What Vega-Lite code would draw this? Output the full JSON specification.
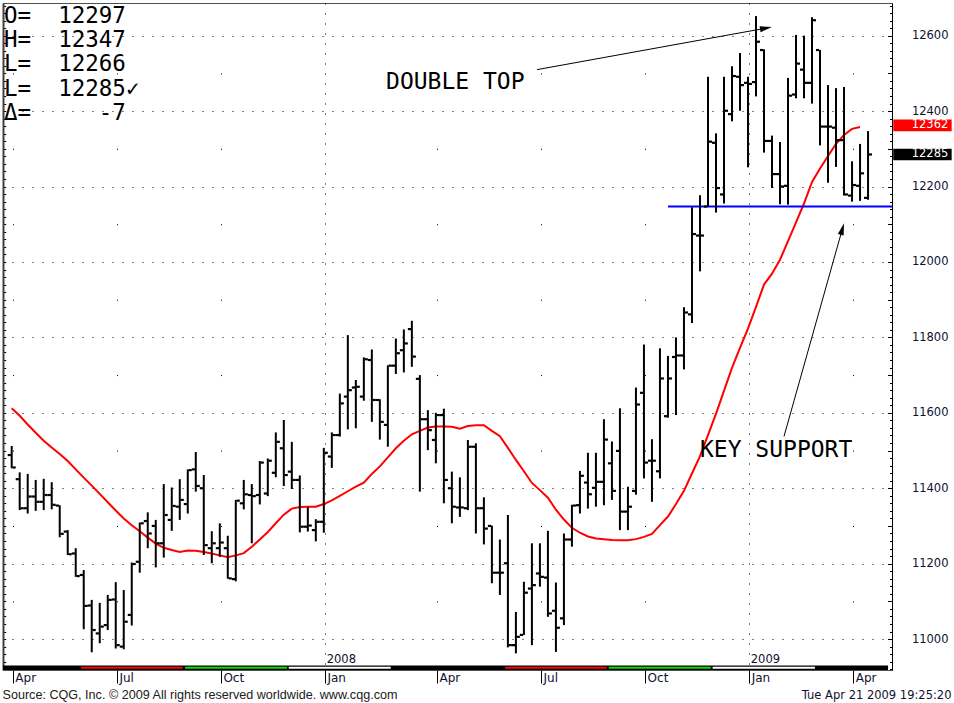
{
"$schema": "https://vega.github.io/schema/vega-lite/v6.json",
"width": 889, "height": 667, "autosize": "none",
"padding": {"left": 3, "top": 3, "right": 62, "bottom": 33},
"background": "#ffffff",
"config": {"view": {"stroke": "#505050", "strokeWidth": 1}},
"title": {"text": ["O=\u00a0\u00a012297", "H=\u00a0\u00a012347", "L=\u00a0\u00a012266", "L=\u00a0\u00a012285\u2713", "\u0394=\u00a0\u00a0\u00a0\u00a0\u00a0-7"], "orient": "none", "anchor": "start", "frame": "group", "baseline": "top", "offset": 0, "dx": 1, "dy": 2, "font": "DejaVu Sans Mono", "fontSize": 22.5, "fontWeight": "normal", "color": "#000000", "lineHeight": 24.2},
"datasets": {
"bars": [
{"d":"2007-04-02","o":11488,"h":11512,"l":11453,"c":11455,"ma":11612},
{"d":"2007-04-09","o":11424,"h":11442,"l":11342,"c":11347,"ma":11592},
{"d":"2007-04-16","o":11347,"h":11438,"l":11333,"c":11378,"ma":11569},
{"d":"2007-04-23","o":11378,"h":11422,"l":11340,"c":11364,"ma":11547},
{"d":"2007-04-30","o":11364,"h":11425,"l":11342,"c":11382,"ma":11526},
{"d":"2007-05-07","o":11382,"h":11416,"l":11344,"c":11356,"ma":11508},
{"d":"2007-05-14","o":11354,"h":11355,"l":11270,"c":11279,"ma":11491},
{"d":"2007-05-21","o":11285,"h":11289,"l":11223,"c":11225,"ma":11472},
{"d":"2007-05-28","o":11227,"h":11241,"l":11165,"c":11167,"ma":11450},
{"d":"2007-06-04","o":11170,"h":11183,"l":11026,"c":11088,"ma":11428},
{"d":"2007-06-11","o":11089,"h":11104,"l":10965,"c":11024,"ma":11407},
{"d":"2007-06-18","o":11015,"h":11096,"l":10989,"c":11033,"ma":11385},
{"d":"2007-06-25","o":11037,"h":11117,"l":11024,"c":11104,"ma":11363},
{"d":"2007-07-02","o":11105,"h":11151,"l":10975,"c":10984,"ma":11341},
{"d":"2007-07-09","o":10980,"h":11130,"l":10973,"c":11046,"ma":11320},
{"d":"2007-07-16","o":11064,"h":11203,"l":11036,"c":11199,"ma":11302},
{"d":"2007-07-23","o":11205,"h":11309,"l":11176,"c":11307,"ma":11286},
{"d":"2007-07-30","o":11313,"h":11336,"l":11241,"c":11280,"ma":11269},
{"d":"2007-08-06","o":11300,"h":11316,"l":11190,"c":11254,"ma":11253},
{"d":"2007-08-13","o":11254,"h":11411,"l":11216,"c":11329,"ma":11242},
{"d":"2007-08-20","o":11316,"h":11402,"l":11287,"c":11353,"ma":11236},
{"d":"2007-08-27","o":11351,"h":11424,"l":11316,"c":11369,"ma":11231},
{"d":"2007-09-03","o":11358,"h":11450,"l":11333,"c":11448,"ma":11235},
{"d":"2007-09-10","o":11450,"h":11496,"l":11391,"c":11406,"ma":11234},
{"d":"2007-09-17","o":11400,"h":11435,"l":11223,"c":11249,"ma":11231},
{"d":"2007-09-24","o":11241,"h":11286,"l":11201,"c":11254,"ma":11227},
{"d":"2007-10-01","o":11241,"h":11307,"l":11218,"c":11256,"ma":11222},
{"d":"2007-10-08","o":11241,"h":11274,"l":11160,"c":11161,"ma":11217},
{"d":"2007-10-15","o":11159,"h":11369,"l":11153,"c":11367,"ma":11222},
{"d":"2007-10-22","o":11360,"h":11422,"l":11344,"c":11384,"ma":11228},
{"d":"2007-10-29","o":11382,"h":11411,"l":11254,"c":11379,"ma":11245},
{"d":"2007-11-05","o":11382,"h":11472,"l":11357,"c":11468,"ma":11264},
{"d":"2007-11-12","o":11386,"h":11479,"l":11379,"c":11473,"ma":11284},
{"d":"2007-11-19","o":11441,"h":11548,"l":11429,"c":11523,"ma":11307},
{"d":"2007-11-26","o":11506,"h":11581,"l":11406,"c":11435,"ma":11330},
{"d":"2007-12-03","o":11444,"h":11523,"l":11398,"c":11422,"ma":11346},
{"d":"2007-12-10","o":11422,"h":11434,"l":11283,"c":11298,"ma":11350},
{"d":"2007-12-17","o":11298,"h":11350,"l":11285,"c":11301,"ma":11351},
{"d":"2007-12-24","o":11289,"h":11318,"l":11259,"c":11311,"ma":11351},
{"d":"2007-12-31","o":11311,"h":11507,"l":11282,"c":11494,"ma":11358},
{"d":"2008-01-07","o":11484,"h":11548,"l":11454,"c":11541,"ma":11368},
{"d":"2008-01-14","o":11541,"h":11651,"l":11537,"c":11625,"ma":11380},
{"d":"2008-01-21","o":11643,"h":11806,"l":11556,"c":11660,"ma":11392},
{"d":"2008-01-28","o":11667,"h":11687,"l":11559,"c":11669,"ma":11404},
{"d":"2008-02-04","o":11643,"h":11747,"l":11632,"c":11742,"ma":11415},
{"d":"2008-02-11","o":11740,"h":11768,"l":11576,"c":11634,"ma":11438},
{"d":"2008-02-18","o":11634,"h":11636,"l":11529,"c":11576,"ma":11458},
{"d":"2008-02-25","o":11568,"h":11726,"l":11510,"c":11725,"ma":11482},
{"d":"2008-03-03","o":11725,"h":11797,"l":11703,"c":11758,"ma":11506},
{"d":"2008-03-10","o":11766,"h":11821,"l":11707,"c":11784,"ma":11526},
{"d":"2008-03-17","o":11822,"h":11844,"l":11722,"c":11749,"ma":11543},
{"d":"2008-03-24","o":11690,"h":11700,"l":11391,"c":11583,"ma":11552},
{"d":"2008-03-31","o":11583,"h":11607,"l":11501,"c":11554,"ma":11561},
{"d":"2008-04-07","o":11528,"h":11600,"l":11466,"c":11594,"ma":11564},
{"d":"2008-04-14","o":11594,"h":11611,"l":11360,"c":11422,"ma":11564},
{"d":"2008-04-21","o":11400,"h":11444,"l":11307,"c":11351,"ma":11563},
{"d":"2008-04-28","o":11349,"h":11429,"l":11324,"c":11349,"ma":11558},
{"d":"2008-05-05","o":11347,"h":11528,"l":11342,"c":11510,"ma":11565},
{"d":"2008-05-12","o":11510,"h":11519,"l":11280,"c":11347,"ma":11567},
{"d":"2008-05-19","o":11347,"h":11376,"l":11251,"c":11293,"ma":11567},
{"d":"2008-05-26","o":11300,"h":11301,"l":11148,"c":11176,"ma":11552},
{"d":"2008-06-02","o":11176,"h":11264,"l":11117,"c":11176,"ma":11538},
{"d":"2008-06-09","o":11201,"h":11329,"l":10978,"c":10984,"ma":11507},
{"d":"2008-06-16","o":10984,"h":11072,"l":10962,"c":11006,"ma":11475},
{"d":"2008-06-23","o":11011,"h":11152,"l":11011,"c":11123,"ma":11445},
{"d":"2008-06-30","o":11134,"h":11254,"l":10984,"c":11143,"ma":11414},
{"d":"2008-07-07","o":11174,"h":11254,"l":11139,"c":11165,"ma":11395},
{"d":"2008-07-14","o":11163,"h":11287,"l":11059,"c":11068,"ma":11375},
{"d":"2008-07-21","o":11075,"h":11150,"l":10966,"c":11030,"ma":11343},
{"d":"2008-07-28","o":11055,"h":11280,"l":11037,"c":11264,"ma":11317},
{"d":"2008-08-04","o":11264,"h":11356,"l":11245,"c":11354,"ma":11295},
{"d":"2008-08-11","o":11355,"h":11446,"l":11333,"c":11433,"ma":11282},
{"d":"2008-08-18","o":11415,"h":11494,"l":11346,"c":11384,"ma":11272},
{"d":"2008-08-25","o":11401,"h":11494,"l":11351,"c":11417,"ma":11267},
{"d":"2008-09-01","o":11417,"h":11583,"l":11355,"c":11529,"ma":11265},
{"d":"2008-09-08","o":11466,"h":11524,"l":11369,"c":11393,"ma":11263},
{"d":"2008-09-15","o":11499,"h":11612,"l":11289,"c":11338,"ma":11262},
{"d":"2008-09-22","o":11338,"h":11404,"l":11289,"c":11351,"ma":11262},
{"d":"2008-09-29","o":11393,"h":11667,"l":11383,"c":11622,"ma":11265},
{"d":"2008-10-06","o":11653,"h":11781,"l":11426,"c":11468,"ma":11271},
{"d":"2008-10-13","o":11473,"h":11530,"l":11364,"c":11473,"ma":11279},
{"d":"2008-10-20","o":11445,"h":11771,"l":11426,"c":11691,"ma":11302},
{"d":"2008-10-27","o":11591,"h":11751,"l":11587,"c":11691,"ma":11325},
{"d":"2008-11-03","o":11748,"h":11800,"l":11594,"c":11752,"ma":11358},
{"d":"2008-11-10","o":11752,"h":11880,"l":11715,"c":11866,"ma":11393},
{"d":"2008-11-17","o":11861,"h":12145,"l":11838,"c":12074,"ma":11439},
{"d":"2008-11-24","o":12070,"h":12177,"l":11975,"c":12070,"ma":11485},
{"d":"2008-12-01","o":12147,"h":12491,"l":12147,"c":12319,"ma":11541},
{"d":"2008-12-08","o":12316,"h":12341,"l":12131,"c":12196,"ma":11597},
{"d":"2008-12-15","o":12179,"h":12491,"l":12155,"c":12401,"ma":11658},
{"d":"2008-12-22","o":12392,"h":12519,"l":12373,"c":12493,"ma":11719},
{"d":"2008-12-29","o":12491,"h":12554,"l":12401,"c":12469,"ma":11772},
{"d":"2009-01-05","o":12475,"h":12491,"l":12251,"c":12472,"ma":11823},
{"d":"2009-01-12","o":12477,"h":12652,"l":12439,"c":12584,"ma":11881},
{"d":"2009-01-19","o":12562,"h":12564,"l":12290,"c":12321,"ma":11940},
{"d":"2009-01-26","o":12321,"h":12335,"l":12196,"c":12233,"ma":11969},
{"d":"2009-02-02","o":12233,"h":12318,"l":12153,"c":12200,"ma":12006},
{"d":"2009-02-09","o":12202,"h":12488,"l":12152,"c":12441,"ma":12055},
{"d":"2009-02-16","o":12444,"h":12602,"l":12434,"c":12526,"ma":12105},
{"d":"2009-02-23","o":12510,"h":12600,"l":12434,"c":12475,"ma":12155},
{"d":"2009-03-02","o":12475,"h":12649,"l":12420,"c":12641,"ma":12212},
{"d":"2009-03-09","o":12562,"h":12562,"l":12309,"c":12359,"ma":12248},
{"d":"2009-03-16","o":12359,"h":12469,"l":12210,"c":12359,"ma":12281},
{"d":"2009-03-23","o":12356,"h":12461,"l":12252,"c":12323,"ma":12313},
{"d":"2009-03-30","o":12323,"h":12464,"l":12176,"c":12179,"ma":12337},
{"d":"2009-04-06","o":12176,"h":12267,"l":12160,"c":12204,"ma":12353},
{"d":"2009-04-13","o":12202,"h":12313,"l":12162,"c":12235,"ma":12358},
{"d":"2009-04-20","o":12170,"h":12347,"l":12165,"c":12285,"ma":null}
],
"seasons": [
{"s":"2007-06-01T14:00:00Z","e":"2007-08-29T14:00:00Z","k":"summer"},
{"s":"2007-08-31T14:00:00Z","e":"2007-11-28T19:00:00Z","k":"autumn"},
{"s":"2007-11-30T07:00:00Z","e":"2008-02-27T12:00:00Z","k":"winter"},
{"s":"2008-06-06T12:00:00Z","e":"2008-09-03T10:00:00Z","k":"summer"},
{"s":"2008-09-05T05:00:00Z","e":"2008-12-03T10:00:00Z","k":"autumn"},
{"s":"2008-12-05T02:00:00Z","e":"2009-03-04T14:00:00Z","k":"winter"}
],
"arrows": [
{"id":"top","d":"2008-07-04T11:00:00Z","v":12510},
{"id":"top","d":"2009-01-20T18:00:00Z","v":12620},
{"id":"support","d":"2009-02-05T12:00:00Z","v":11537.5},
{"id":"support","d":"2009-03-28T13:00:00Z","v":12087.5}
],
"notes": [
{"d":"2008-02-23T10:00:00Z","v":12458,"t":"DOUBLE TOP"},
{"d":"2008-11-24T00:00:00Z","v":11482.6,"t":"KEY SUPPORT"}
],
"years": [
{"d":"2008-01-02T12:00:00Z","t":"2008"},
{"d":"2009-01-07T10:00:00Z","t":"2009"}
],
"marks": [
{"v":12362,"t":"12362","k":"ma"},
{"v":12285,"t":"12285","k":"last"}
]
},
"data": {"name": "bars"},
"layer": [
{
"data": {"values": [{}]},
"mark": {"type": "rect", "color": "#000000"},
"encoding": {
"x": {"datum": {"year":2007,"month":3,"date":25,"hours":9,"minutes":22,"utc":true}, "type": "temporal",
 "scale": {"type": "utc", "domain": [{"year":2007,"month":3,"date":25,"hours":9,"minutes":22,"utc":true},{"year":2009,"month":5,"date":10,"hours":23,"utc":true}]}, "axis": null},
"x2": {"datum": {"year":2009,"month":5,"date":7,"hours":12,"utc":true}},
"y": {"datum": 10918, "type": "quantitative", "scale": {"domain": [10918, 12686.7], "nice": false, "zero": false}, "axis": null},
"y2": {"datum": 10929.7}
}
},
{
"data": {"name": "seasons"},
"mark": {"type": "rect"},
"encoding": {
"x": {"field": "s", "type": "temporal", "axis": null},
"x2": {"field": "e"},
"y": {"datum": 10921.5, "type": "quantitative", "axis": null},
"y2": {"datum": 10926.8},
"color": {"field": "k", "type": "nominal", "scale": {"domain": ["summer","autumn","winter"], "range": ["#ff0000","#00e000","#ffffff"]}, "legend": null}
}
},
{
"mark": {"type": "line", "color": "#ff0000", "strokeWidth": 2},
"encoding": {
"x": {"field": "d", "type": "temporal", "axis": {"orient": "bottom", "values": [1199145600000, 1231200000000], "grid": true, "gridColor": "#000000", "gridWidth": 1, "gridDash": [1, 9], "ticks": false, "labels": false, "domain": false, "title": null}},
"y": {"field": "ma", "type": "quantitative", "axis": {"orient": "left", "values": [10920,10940,10960,10980,11000,11020,11040,11060,11080,11100,11120,11140,11160,11180,11200,11220,11240,11260,11280,11300,11320,11340,11360,11380,11400,11420,11440,11460,11480,11500,11520,11540,11560,11580,11600,11620,11640,11660,11680,11700,11720,11740,11760,11780,11800,11820,11840,11860,11880,11900,11920,11940,11960,11980,12000,12020,12040,12060,12080,12100,12120,12140,12160,12180,12200,12220,12240,12260,12280,12300,12320,12340,12360,12380,12400,12420,12440,12460,12480,12500,12520,12540,12560,12580,12600,12620,12640,12660,12680], "tickSize": -2.7, "tickColor": "#000000", "labels": false, "grid": false, "domain": true, "domainColor": "#404040", "domainWidth": 2, "title": null}}
}
},
{
"data": {"values": [{}]},
"mark": {"type": "rule", "color": "#0000ff", "strokeWidth": 2},
"encoding": {
"x": {"datum": {"year":2008,"month":10,"date":27,"hours":1,"utc":true}, "type": "temporal", "axis": null},
"x2": {"datum": {"year":2009,"month":5,"date":10,"hours":23,"utc":true}},
"y": {"datum": 12147, "type": "quantitative", "axis": null}
}
},
{
"mark": {"type": "rule", "color": "#000000", "strokeWidth": 2},
"encoding": {
"x": {"field": "d", "type": "temporal", "axis": {
 "values": [1175558400000, 1183420800000, 1191283200000, 1199145600000, 1207612800000, 1215475200000, 1223337600000, 1231200000000, 1239062400000],
 "labelExpr": "utcFormat(datum.value, '%b')",
 "orient": "bottom",
 "domain": false, "ticks": true, "tickSize": 13, "tickColor": "#000000", "tickWidth": 1,
 "labelAlign": "left", "labelBaseline": "alphabetic", "labelPadding": -2, "labelOffset": 2, "labelFlush": false, "labelOverlap": false, "labelBound": false,
 "labelFont": "DejaVu Sans", "labelFontSize": 12, "labelColor": "#101030",
 "grid": false,
 "title": "Source: CQG, Inc. \u00a9 2009 All rights reserved worldwide. www.cqg.com",
 "titleX": -1, "titleY": 28.7, "titleAlign": "left", "titleBaseline": "alphabetic", "titleAngle": 0,
 "titleFont": "Liberation Sans", "titleFontSize": 12.6, "titleFontWeight": "normal", "titleColor": "#202020"}},
"y": {"field": "l", "type": "quantitative", "axis": {"orient": "right", "values": [11000,11200,11400,11600,11800,12000,12200,12400,12600],
 "labelExpr": "format(datum.value, 'd')", "ticks": false, "domain": false, "labelPadding": 56, "labelAlign": "right", "labelBaseline": "middle",
 "labelFont": "DejaVu Sans", "labelFontSize": 11.5, "labelColor": "#101030",
 "grid": true, "gridColor": "#000000", "gridDash": [1, 9], "gridDashOffset": 1, "gridWidth": 1,
 "title": "Tue Apr 21 2009 19:25:20", "titleX": 59, "titleY": 695.7, "titleAlign": "right", "titleBaseline": "alphabetic", "titleAngle": 0,
 "titleFont": "DejaVu Sans", "titleFontSize": 11.5, "titleFontWeight": "normal", "titleColor": "#101030"}},
"y2": {"field": "h"}
}
},
{
"mark": {"type": "tick", "orient": "horizontal", "color": "#000000", "size": 3.2, "thickness": 2.2, "xOffset": -2.4, "opacity": 1},
"encoding": {
"x": {"field": "d", "type": "temporal", "axis": {"orient": "bottom", "values": [1175558400000, 1183420800000, 1191283200000, 1207612800000, 1215475200000, 1223337600000, 1239062400000], "grid": true, "gridColor": "#000000", "gridWidth": 1, "gridDash": [1, 74.42], "gridDashOffset": 5.5, "ticks": false, "labels": false, "domain": false, "title": null}},
"y": {"field": "o", "type": "quantitative", "axis": {"orient": "right", "values": [10920,10940,10960,10980,11000,11020,11040,11060,11080,11100,11120,11140,11160,11180,11200,11220,11240,11260,11280,11300,11320,11340,11360,11380,11400,11420,11440,11460,11480,11500,11520,11540,11560,11580,11600,11620,11640,11660,11680,11700,11720,11740,11760,11780,11800,11820,11840,11860,11880,11900,11920,11940,11960,11980,12000,12020,12040,12060,12080,12100,12120,12140,12160,12180,12200,12220,12240,12260,12280,12300,12320,12340,12360,12380,12400,12420,12440,12460,12480,12500,12520,12540,12560,12580,12600,12620,12640,12660,12680], "tickSize": -2.5, "tickColor": "#000000", "labels": false, "grid": false, "domain": true, "domainColor": "#000000", "domainWidth": 1, "title": null}}
}
},
{
"mark": {"type": "tick", "orient": "horizontal", "color": "#000000", "size": 3.2, "thickness": 2.2, "xOffset": 2.4, "opacity": 1},
"encoding": {
"x": {"field": "d", "type": "temporal", "axis": null},
"y": {"field": "c", "type": "quantitative", "axis": {"orient": "right", "values": [11000,11100,11200,11300,11400,11500,11600,11700,11800,11900,12000,12100,12200,12300,12400,12500,12600], "tickSize": -4.5, "tickColor": "#000000", "labels": false, "grid": false, "domain": false, "title": null}}
}
},
{
"data": {"name": "arrows"},
"mark": {"type": "line", "color": "#000000", "strokeWidth": 1},
"encoding": {
"x": {"field": "d", "type": "temporal", "axis": null},
"y": {"field": "v", "type": "quantitative", "axis": null},
"detail": {"field": "id"}
}
},
{
"data": {"values": [{}]},
"mark": {"type": "point", "shape": "M 1 0 L -1 -0.5 L -1 0.5 Z", "size": 144, "filled": true, "color": "#000000", "opacity": 1, "angle": 349.7},
"encoding": {
"x": {"datum": {"year":2009,"month":1,"date":20,"hours":18,"utc":true}, "type": "temporal", "axis": null},
"y": {"datum": 12620, "type": "quantitative", "axis": null}
}
},
{
"data": {"values": [{}]},
"mark": {"type": "point", "shape": "M 1 0 L -1 -0.5 L -1 0.5 Z", "size": 144, "filled": true, "color": "#000000", "opacity": 1, "angle": 285.7},
"encoding": {
"x": {"datum": {"year":2009,"month":3,"date":28,"hours":13,"utc":true}, "type": "temporal", "axis": null},
"y": {"datum": 12087.5, "type": "quantitative", "axis": null}
}
},
{
"data": {"name": "notes"},
"mark": {"type": "text", "align": "left", "baseline": "alphabetic", "font": "DejaVu Sans Mono", "fontSize": 23, "fontWeight": "normal", "color": "#000000"},
"encoding": {
"x": {"field": "d", "type": "temporal", "axis": null},
"y": {"field": "v", "type": "quantitative", "axis": null},
"text": {"field": "t"}
}
},
{
"data": {"name": "years"},
"mark": {"type": "text", "align": "left", "baseline": "alphabetic", "font": "DejaVu Sans", "fontSize": 11.5, "color": "#101030"},
"encoding": {
"x": {"field": "d", "type": "temporal", "axis": null},
"y": {"datum": 10935.8, "type": "quantitative", "axis": null},
"text": {"field": "t"}
}
},
{
"data": {"name": "marks"},
"mark": {"type": "point", "shape": "M -1 -0.2 L 1 -0.2 L 1 0.2 L -1 0.2 Z", "size": 3411, "filled": true, "opacity": 1, "strokeWidth": 0},
"encoding": {
"x": {"datum": {"year":2009,"month":6,"date":6,"hours":14,"utc":true}, "type": "temporal", "axis": null},
"y": {"field": "v", "type": "quantitative", "axis": null},
"color": {"field": "k", "type": "nominal", "scale": {"domain": ["ma","last"], "range": ["#ff0000","#000000"]}, "legend": null}
}
},
{
"data": {"name": "marks"},
"mark": {"type": "text", "align": "right", "baseline": "middle", "font": "DejaVu Sans", "fontSize": 11.5, "color": "#ffffff"},
"encoding": {
"x": {"datum": {"year":2009,"month":6,"date":29,"hours":5,"utc":true}, "type": "temporal", "axis": null},
"y": {"field": "v", "type": "quantitative", "axis": null},
"text": {"field": "t"}
}
}
],
"resolve": {"axis": {"x": "independent", "y": "independent"}, "scale": {"color": "independent"}}
}
